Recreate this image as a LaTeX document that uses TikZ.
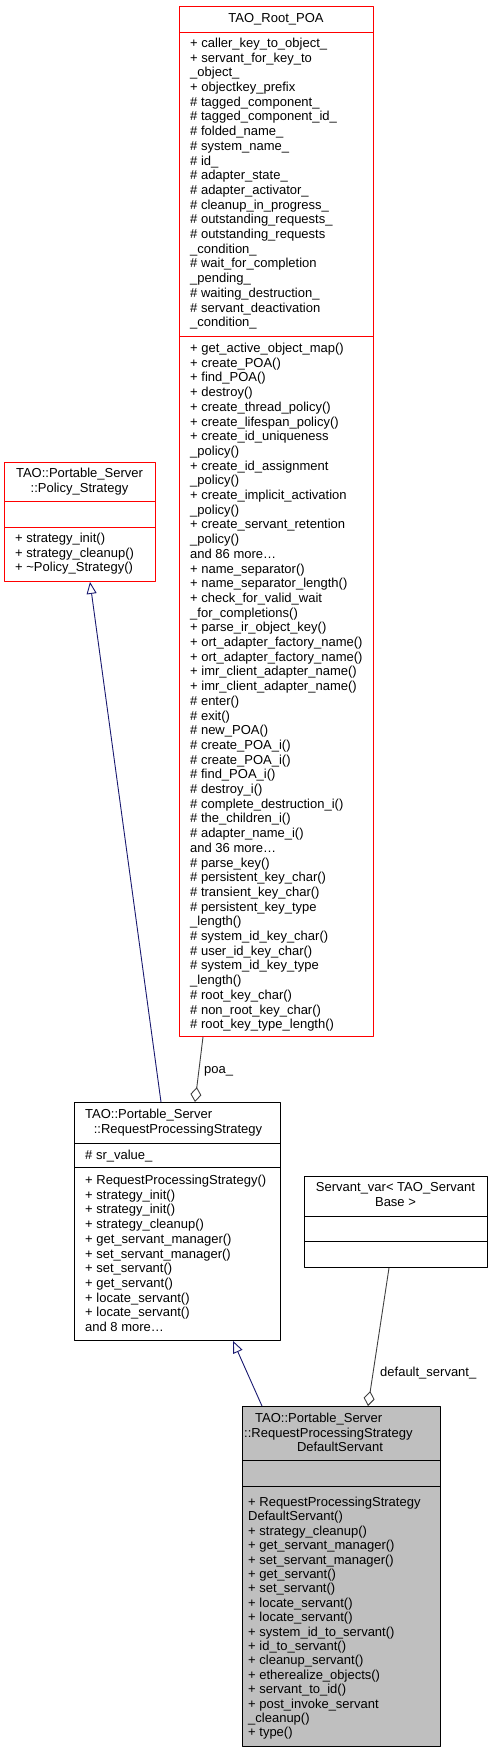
\documentclass[tikz,border=0pt]{standalone}
\usepackage{fontspec}
\setmainfont{Liberation Sans}
\usetikzlibrary{arrows.meta}
\definecolor{inheritblue}{RGB}{25,25,112}
\definecolor{usagegrey}{RGB}{64,64,64}
\definecolor{focusgrey}{RGB}{191,191,191}
\tikzset{
  classbox/.style={draw, line width=0.9pt, anchor=north west, inner sep=0pt},
  member/.style={anchor=base west, inner sep=0pt, font=\fontsize{13}{15}\selectfont},
  classname/.style={anchor=base, inner sep=0pt, font=\fontsize{13}{15}\selectfont},
  inherit/.style={draw=inheritblue, line width=0.9pt, -{Triangle[open, length=12pt, width=10pt]}},
  aggregate/.style={draw=usagegrey, line width=0.9pt, -{Diamond[open, length=15pt, width=11pt]}}
}
\begin{document}
\begin{tikzpicture}[x=1pt,y=-1pt,line join=round]
	\useasboundingbox (0,0) rectangle (492,1752);
	% TAO_Root_POA
	\node[classbox, draw=red, minimum width=194pt, minimum height=1030pt] (root) at (179,6) {};
	\draw[red, line width=0.9pt] ([yshift=-26pt]root.north west) -- ([yshift=-26pt]root.north east);
	\draw[red, line width=0.9pt] ([yshift=-330pt]root.north west) -- ([yshift=-330pt]root.north east);
	\node[classname] (rootname) at (276,23) {TAO\_Root\_POA};
	\foreach \m [count=\i from 0] in {+ caller\_key\_to\_object\_, + servant\_for\_key\_to, \_object\_, + objectkey\_prefix, \# tagged\_component\_, \# tagged\_component\_id\_, \# folded\_name\_, \# system\_name\_, \# id\_, \# adapter\_state\_, \# adapter\_activator\_, \# cleanup\_in\_progress\_, \# outstanding\_requests\_, \# outstanding\_requests, \_condition\_, \# wait\_for\_completion, \_pending\_, \# waiting\_destruction\_, \# servant\_deactivation, \_condition\_}
		\node[member] at (190,47.5+\i*14.7) {\m};
	\foreach \m [count=\i from 0] in {+ get\_active\_object\_map(), + create\_POA(), + find\_POA(), + destroy(), + create\_thread\_policy(), + create\_lifespan\_policy(), + create\_id\_uniqueness, \_policy(), + create\_id\_assignment, \_policy(), + create\_implicit\_activation, \_policy(), + create\_servant\_retention, \_policy(), and 86 more\ldots, + name\_separator(), + name\_separator\_length(), + check\_for\_valid\_wait, \_for\_completions(), + parse\_ir\_object\_key(), + ort\_adapter\_factory\_name(), + ort\_adapter\_factory\_name(), + imr\_client\_adapter\_name(), + imr\_client\_adapter\_name(), \# enter(), \# exit(), \# new\_POA(), \# create\_POA\_i(), \# create\_POA\_i(), \# find\_POA\_i(), \# destroy\_i(), \# complete\_destruction\_i(), \# the\_children\_i(), \# adapter\_name\_i(), and 36 more\ldots, \# parse\_key(), \# persistent\_key\_char(), \# transient\_key\_char(), \# persistent\_key\_type, \_length(), \# system\_id\_key\_char(), \# user\_id\_key\_char(), \# system\_id\_key\_type, \_length(), \# root\_key\_char(), \# non\_root\_key\_char(), \# root\_key\_type\_length()}
		\node[member] at (190,352.5+\i*14.7) {\m};
	% TAO::Portable_Server::Policy_Strategy
	\node[classbox, draw=red, minimum width=151pt, minimum height=119pt] (policy) at (4,462) {};
	\draw[red, line width=0.9pt] ([yshift=-39pt]policy.north west) -- ([yshift=-39pt]policy.north east);
	\draw[red, line width=0.9pt] ([yshift=-65pt]policy.north west) -- ([yshift=-65pt]policy.north east);
	\node[classname] (policyname) at (79.5,477.5) {TAO::Portable\_Server};
	\node[classname] (policyname2) at (79.5,492.5) {::Policy\_Strategy};
	\foreach \m [count=\i from 0] in {+ strategy\_init(), + strategy\_cleanup(), + \textasciitilde Policy\_Strategy()}
		\node[member] at (15,542.5+\i*14.7) {\m};
	% TAO::Portable_Server::RequestProcessingStrategy
	\node[classbox, minimum width=206pt, minimum height=238pt] (rps) at (74,1102) {};
	\draw[line width=0.9pt] ([yshift=-41pt]rps.north west) -- ([yshift=-41pt]rps.north east);
	\draw[line width=0.9pt] ([yshift=-65pt]rps.north west) -- ([yshift=-65pt]rps.north east);
	\node[member] (rpsname) at (85,1118.5) {TAO::Portable\_Server};
	\node[classname] (rpsname2) at (178,1133.5) {::RequestProcessingStrategy};
	\node[member] at (85,1159.5) {\# sr\_value\_};
	\foreach \m [count=\i from 0] in {+ RequestProcessingStrategy(), + strategy\_init(), + strategy\_init(), + strategy\_cleanup(), + get\_servant\_manager(), + set\_servant\_manager(), + set\_servant(), + get\_servant(), + locate\_servant(), + locate\_servant(), and 8 more\ldots}
		\node[member] at (85,1184.5+\i*14.7) {\m};
	% Servant_var< TAO_ServantBase >
	\node[classbox, minimum width=183pt, minimum height=91pt] (servantvar) at (304,1176) {};
	\draw[line width=0.9pt] ([yshift=-40pt]servantvar.north west) -- ([yshift=-40pt]servantvar.north east);
	\draw[line width=0.9pt] ([yshift=-65pt]servantvar.north west) -- ([yshift=-65pt]servantvar.north east);
	\node[classname] (svname) at (395.5,1191.5) {Servant\_var< TAO\_Servant};
	\node[classname] (svname2) at (395.5,1206.5) {Base >};
	% TAO::Portable_Server::RequestProcessingStrategyDefaultServant
	\node[classbox, fill=focusgrey, minimum width=198pt, minimum height=340pt] (defserv) at (242,1406) {};
	\draw[line width=0.9pt] ([yshift=-54pt]defserv.north west) -- ([yshift=-54pt]defserv.north east);
	\draw[line width=0.9pt] ([yshift=-80pt]defserv.north west) -- ([yshift=-80pt]defserv.north east);
	\node[member] (dsname) at (255,1422.5) {TAO::Portable\_Server};
	\node[member] (dsname2) at (244,1437.2) {::RequestProcessingStrategy};
	\node[classname] (dsname3) at (340,1451.9) {DefaultServant};
	\foreach \m [count=\i from 0] in {+ RequestProcessingStrategy, DefaultServant(), + strategy\_cleanup(), + get\_servant\_manager(), + set\_servant\_manager(), + get\_servant(), + set\_servant(), + locate\_servant(), + locate\_servant(), + system\_id\_to\_servant(), + id\_to\_servant(), + cleanup\_servant(), + etherealize\_objects(), + servant\_to\_id(), + post\_invoke\_servant, \_cleanup(), + type()}
		\node[member] at (248,1506.5+\i*14.4) {\m};
	% relations
	\draw[inherit] ([xshift=87pt]rps.north west) -- ([xshift=86pt]policy.south west);
	\draw[aggregate] ([xshift=24pt]root.south west) -- ([xshift=121pt]rps.north west);
	\node[member] (poalabel) at (204,1073.5) {poa\_};
	\draw[inherit] ([xshift=20pt]defserv.north west) -- ([xshift=159pt]rps.south west);
	\draw[aggregate] ([xshift=85pt]servantvar.south west) -- ([xshift=126pt]defserv.north west);
	\node[member] (dslabel) at (380,1376.5) {default\_servant\_};
\end{tikzpicture}
\end{document}
